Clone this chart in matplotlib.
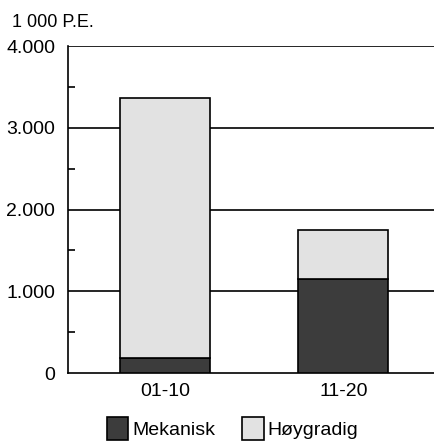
import matplotlib
matplotlib.use('Agg')
import matplotlib.pyplot as plt
from matplotlib.patches import Rectangle

plt.rcParams['font.family'] = ['Liberation Sans Narrow', 'Liberation Sans', 'DejaVu Sans']

categories = ['01-10', '11-20']
mekanisk = [180, 1150]
hoygradig = [3180, 600]   # stacked on top of mekanisk
yticks = [0, 1000, 2000, 3000, 4000]
ytick_labels = ['0', '1.000', '2.000', '3.000', '4.000']

dark = '#3c3c3c'
light = '#e2e2e2'

fig = plt.figure(figsize=(4.35, 4.43), dpi=100)
ax = fig.add_axes([0.156, 0.158, 0.844, 0.738])

x = range(len(categories))
ax.bar(x, mekanisk, width=0.504, color=dark, edgecolor='black', linewidth=1.2, zorder=3)
ax.bar(x, hoygradig, bottom=mekanisk, width=0.504, color=light, edgecolor='black', linewidth=1.2, zorder=3)

for y in yticks[1:]:
    ax.axhline(y, color='black', lw=1.2, zorder=1)

ax.set_xlim(-0.543, 1.513)
ax.set_ylim(0, 4000)
ax.set_yticks(yticks)
ax.set_yticklabels(ytick_labels)
ax.set_yticks([500, 1500, 2500, 3500], minor=True)
ax.tick_params(axis='y', which='major', length=0, labelsize=14, pad=9)
ax.tick_params(axis='y', which='minor', direction='in', length=5, width=1.2)
ax.set_xticks(list(x))
ax.set_xticklabels(categories)
ax.tick_params(axis='x', length=0, labelsize=14, pad=7)

for s in ['top', 'right']:
    ax.spines[s].set_visible(False)
for s in ['left', 'bottom']:
    ax.spines[s].set_linewidth(1.2)

fig.text(0.027, 0.95, '1 000 P.E.', fontsize=13, va='center', ha='left')

# legend at the bottom
leg = fig.legend(handles=[Rectangle((0, 0), 1, 1, facecolor=dark, edgecolor='black', lw=1.2),
                          Rectangle((0, 0), 1, 1, facecolor=light, edgecolor='black', lw=1.2)],
                 labels=['Mekanisk', 'Høygradig'], loc='center', bbox_to_anchor=(0.535, 0.033),
                 ncol=2, frameon=False, fontsize=14, handlelength=1.1, handleheight=1.4,
                 handletextpad=0.2, columnspacing=1.4, borderaxespad=0)

fig.savefig('out.png', dpi=100)
